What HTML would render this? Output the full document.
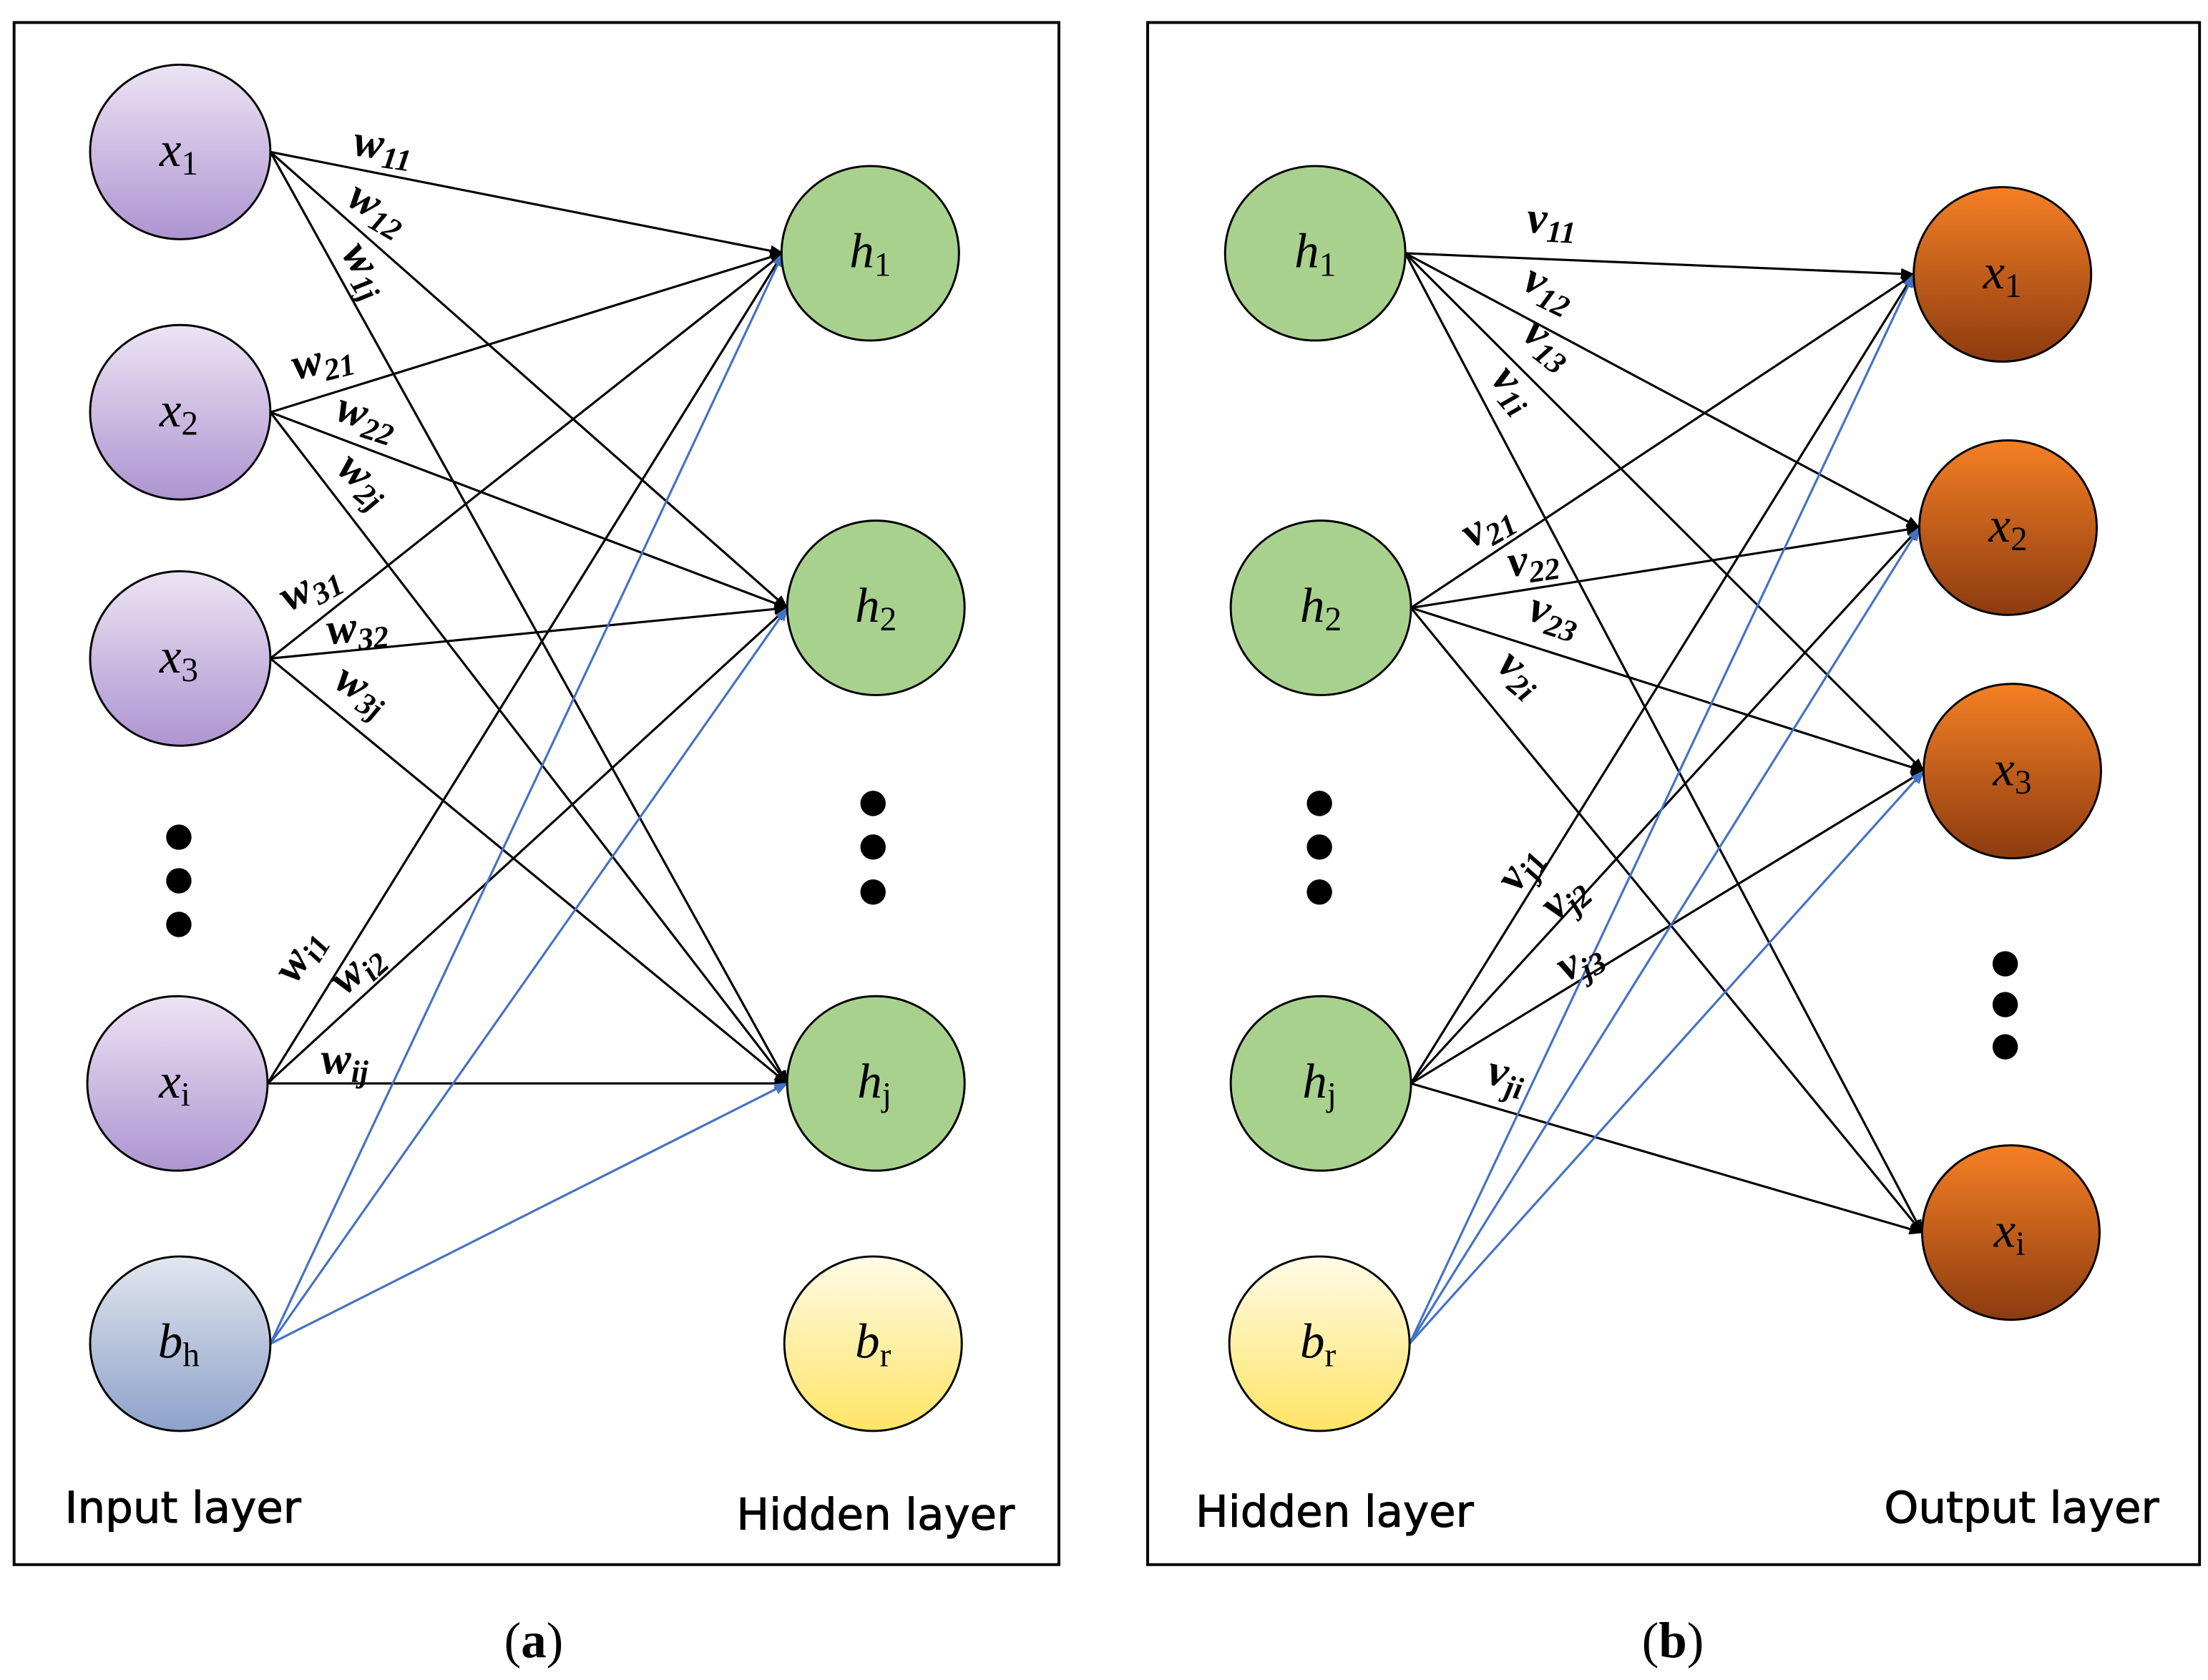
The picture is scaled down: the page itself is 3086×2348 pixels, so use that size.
<!DOCTYPE html>
<html><head><meta charset="utf-8"><style>
html,body{margin:0;padding:0;background:#fff}
svg{display:block}
.lbl{font-family:"Liberation Serif",serif;font-style:italic;font-weight:bold;font-size:32px;fill:#000}
.sub{font-size:22px}
.nd{font-family:"Liberation Serif",serif;font-style:italic;font-size:35px;fill:#000}
.ns{font-style:normal;font-size:24px}
.cap{font-family:"DejaVu Sans",sans-serif;font-size:31px;fill:#000;stroke:#000;stroke-width:0.5}
.pl{font-family:"Liberation Serif",serif;font-size:36px;fill:#000}
</style></head><body>
<svg width="3086" height="2348" viewBox="0 0 1568 1194" preserveAspectRatio="none" xmlns="http://www.w3.org/2000/svg">
<defs>
<linearGradient id="pu" x1="0" y1="0" x2="0" y2="1"><stop offset="0" stop-color="#ece4f3"/><stop offset="1" stop-color="#ad94d1"/></linearGradient>
<linearGradient id="bl" x1="0" y1="0" x2="0" y2="1"><stop offset="0" stop-color="#e2e6ef"/><stop offset="1" stop-color="#8da1c9"/></linearGradient>
<linearGradient id="ye" x1="0" y1="0" x2="0" y2="1"><stop offset="0" stop-color="#fffbe6"/><stop offset="1" stop-color="#ffe466"/></linearGradient>
<linearGradient id="or" x1="0" y1="0" x2="0" y2="1"><stop offset="0" stop-color="#f58025"/><stop offset="1" stop-color="#8c3b10"/></linearGradient>
<marker id="ak" markerWidth="10" markerHeight="8" refX="9" refY="4" orient="auto" markerUnits="userSpaceOnUse"><path d="M0,0 L10,4 L0,8 z" fill="#000"/></marker>
<marker id="ab" markerWidth="10" markerHeight="8" refX="9" refY="4" orient="auto" markerUnits="userSpaceOnUse"><path d="M0,0 L10,4 L0,8 z" fill="#4472c4"/></marker>
</defs>
<rect x="10" y="16" width="742" height="1096" fill="none" stroke="#000" stroke-width="2"/>
<rect x="815" y="16" width="747" height="1096" fill="none" stroke="#000" stroke-width="2"/>
<g stroke="#000" stroke-width="1.6" marker-end="url(#ak)">
<line x1="192" y1="108" x2="556" y2="180"/><line x1="192" y1="108" x2="559" y2="432"/><line x1="192" y1="108" x2="559" y2="770"/>
<line x1="192" y1="293" x2="556" y2="180"/><line x1="192" y1="293" x2="559" y2="432"/><line x1="192" y1="293" x2="559" y2="770"/>
<line x1="192" y1="468" x2="556" y2="180"/><line x1="192" y1="468" x2="559" y2="432"/><line x1="192" y1="468" x2="559" y2="770"/>
<line x1="190" y1="770" x2="556" y2="180"/><line x1="190" y1="770" x2="559" y2="432"/><line x1="190" y1="770" x2="559" y2="770"/>
<line x1="998" y1="180" x2="1359" y2="195"/><line x1="998" y1="180" x2="1363" y2="375"/><line x1="998" y1="180" x2="1366" y2="548"/><line x1="998" y1="180" x2="1365" y2="876"/>
<line x1="1002" y1="432" x2="1359" y2="195"/><line x1="1002" y1="432" x2="1363" y2="375"/><line x1="1002" y1="432" x2="1366" y2="548"/><line x1="1002" y1="432" x2="1365" y2="876"/>
<line x1="1002" y1="770" x2="1359" y2="195"/><line x1="1002" y1="770" x2="1363" y2="375"/><line x1="1002" y1="770" x2="1366" y2="548"/><line x1="1002" y1="770" x2="1365" y2="876"/>
</g>
<g stroke="#4472c4" stroke-width="1.6" marker-end="url(#ab)">
<line x1="192" y1="955" x2="556" y2="180"/><line x1="192" y1="955" x2="559" y2="432"/><line x1="192" y1="955" x2="559" y2="770"/>
<line x1="1001" y1="955" x2="1359" y2="195"/><line x1="1001" y1="955" x2="1363" y2="375"/><line x1="1001" y1="955" x2="1366" y2="548"/>
</g>
<g stroke="#000" stroke-width="1.5">
<ellipse cx="128" cy="108" rx="64" ry="62" fill="url(#pu)"/>
<ellipse cx="128" cy="293" rx="64" ry="62" fill="url(#pu)"/>
<ellipse cx="128" cy="468" rx="64" ry="62" fill="url(#pu)"/>
<ellipse cx="126" cy="770" rx="64" ry="62" fill="url(#pu)"/>
<ellipse cx="128" cy="955" rx="64" ry="62" fill="url(#bl)"/>
<ellipse cx="618" cy="180" rx="63" ry="62" fill="#a9d18e"/>
<ellipse cx="622" cy="432" rx="63" ry="62" fill="#a9d18e"/>
<ellipse cx="622" cy="770" rx="63" ry="62" fill="#a9d18e"/>
<ellipse cx="620" cy="955" rx="63" ry="62" fill="url(#ye)"/>
<ellipse cx="934" cy="180" rx="64" ry="62" fill="#a9d18e"/>
<ellipse cx="938" cy="432" rx="64" ry="62" fill="#a9d18e"/>
<ellipse cx="938" cy="770" rx="64" ry="62" fill="#a9d18e"/>
<ellipse cx="937" cy="955" rx="64" ry="62" fill="url(#ye)"/>
<ellipse cx="1422" cy="195" rx="63" ry="62" fill="url(#or)"/>
<ellipse cx="1426" cy="375" rx="63" ry="62" fill="url(#or)"/>
<ellipse cx="1429" cy="548" rx="63" ry="62" fill="url(#or)"/>
<ellipse cx="1428" cy="876" rx="63" ry="62" fill="url(#or)"/>
</g>
<g fill="#000">
<circle cx="127" cy="595" r="9"/><circle cx="127" cy="626" r="9"/><circle cx="127" cy="657" r="9"/>
<circle cx="620" cy="571" r="9"/><circle cx="620" cy="602" r="9"/><circle cx="620" cy="634" r="9"/>
<circle cx="937" cy="571" r="9"/><circle cx="937" cy="602" r="9"/><circle cx="937" cy="634" r="9"/>
<circle cx="1424" cy="685" r="9"/><circle cx="1424" cy="714" r="9"/><circle cx="1424" cy="744" r="9"/>
</g>
<g class="nd" text-anchor="middle">
<text x="127" y="118">x<tspan class="ns" dy="6">1</tspan></text>
<text x="127" y="303">x<tspan class="ns" dy="6">2</tspan></text>
<text x="127" y="478">x<tspan class="ns" dy="6">3</tspan></text>
<text x="124" y="780">x<tspan class="ns" dy="6">i</tspan></text>
<text x="127" y="965">b<tspan class="ns" dy="6">h</tspan></text>
<text x="618" y="190">h<tspan class="ns" dy="6">1</tspan></text>
<text x="622" y="442">h<tspan class="ns" dy="6">2</tspan></text>
<text x="621" y="780">h<tspan class="ns" dy="6">j</tspan></text>
<text x="620" y="965">b<tspan class="ns" dy="6">r</tspan></text>
<text x="934" y="190">h<tspan class="ns" dy="6">1</tspan></text>
<text x="938" y="442">h<tspan class="ns" dy="6">2</tspan></text>
<text x="937" y="780">h<tspan class="ns" dy="6">j</tspan></text>
<text x="936" y="965">b<tspan class="ns" dy="6">r</tspan></text>
<text x="1422" y="205">x<tspan class="ns" dy="6">1</tspan></text>
<text x="1426" y="385">x<tspan class="ns" dy="6">2</tspan></text>
<text x="1429" y="558">x<tspan class="ns" dy="6">3</tspan></text>
<text x="1427" y="886">x<tspan class="ns" dy="6">i</tspan></text>
</g>
<g class="lbl">
<text transform="translate(250,110) rotate(8)">w<tspan class="sub" dy="6">11</tspan></text>
<text transform="translate(245,145) rotate(30)">w<tspan class="sub" dy="6">12</tspan></text>
<text transform="translate(242,180) rotate(58)">w<tspan class="sub" dy="6">1j</tspan></text>
<text transform="translate(210,270) rotate(-14)">w<tspan class="sub" dy="6">21</tspan></text>
<text transform="translate(237,298) rotate(18)">w<tspan class="sub" dy="6">22</tspan></text>
<text transform="translate(238,335) rotate(40)">w<tspan class="sub" dy="6">2j</tspan></text>
<text transform="translate(205,435) rotate(-28)">w<tspan class="sub" dy="6">31</tspan></text>
<text transform="translate(233,458) rotate(-6)">w<tspan class="sub" dy="6">32</tspan></text>
<text transform="translate(236,488) rotate(30)">w<tspan class="sub" dy="6">3j</tspan></text>
<text transform="translate(210,700) rotate(-58)">w<tspan class="sub" dy="6">i1</tspan></text>
<text transform="translate(245,708) rotate(-42)">w<tspan class="sub" dy="6">i2</tspan></text>
<text transform="translate(228,763)">w<tspan class="sub" dy="6">ij</tspan></text>
<text transform="translate(1084,165) rotate(3)">v<tspan class="sub" dy="6">11</tspan></text>
<text transform="translate(1080,205) rotate(26)">v<tspan class="sub" dy="6">12</tspan></text>
<text transform="translate(1080,240) rotate(38)">v<tspan class="sub" dy="6">13</tspan></text>
<text transform="translate(1058,270) rotate(50)">v<tspan class="sub" dy="6">1i</tspan></text>
<text transform="translate(1045,390) rotate(-30)">v<tspan class="sub" dy="6">21</tspan></text>
<text transform="translate(1072,410) rotate(-8)">v<tspan class="sub" dy="6">22</tspan></text>
<text transform="translate(1084,440) rotate(18)">v<tspan class="sub" dy="6">23</tspan></text>
<text transform="translate(1062,475) rotate(40)">v<tspan class="sub" dy="6">2i</tspan></text>
<text transform="translate(1078,635) rotate(-58)">v<tspan class="sub" dy="6">j1</tspan></text>
<text transform="translate(1105,655) rotate(-42)">v<tspan class="sub" dy="6">j2</tspan></text>
<text transform="translate(1112,698) rotate(-28)">v<tspan class="sub" dy="6">j3</tspan></text>
<text transform="translate(1055,770) rotate(12)">v<tspan class="sub" dy="6">ji</tspan></text>
</g>
<g class="cap">
<text x="46" y="1082">Input layer</text>
<text x="523" y="1087">Hidden layer</text>
<text x="849" y="1085">Hidden layer</text>
<text x="1338" y="1082">Output layer</text>
</g>
<text class="pl" x="379" y="1178" text-anchor="middle">(<tspan font-weight="bold">a</tspan>)</text>
<text class="pl" x="1188" y="1178" text-anchor="middle">(<tspan font-weight="bold">b</tspan>)</text>
</svg>
</body></html>
